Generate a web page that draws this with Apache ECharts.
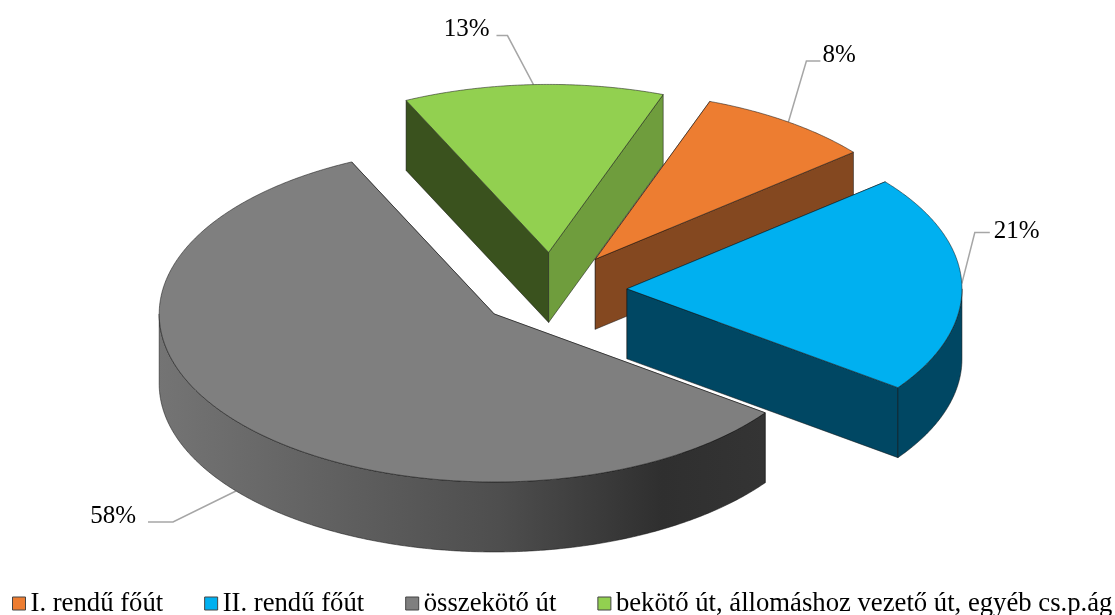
<!DOCTYPE html>
<html>
<head>
<meta charset="utf-8">
<style>html,body{margin:0;padding:0;background:#fff}#main{width:1115px;height:615px}</style>
<script src="https://cdn.jsdelivr.net/npm/echarts@6/dist/echarts.min.js"></script>
</head>
<body>
<div id="main"></div>
<script>
var categories = ['I. rendű főút', 'II. rendű főút', 'összekötő út', 'bekötő út, állomáshoz vezető út, egyéb cs.p.ág'];
var shares = [8.45, 21, 58, 12.55];

var topColors = ['#ED7D31', '#00B0F0', '#7F7F7F', '#92D050'];
var startWallColors = ['#844820', '#004763', '#333333', '#3A521E'];
var endWallColors = ['#844820', '#004763', '#333333', '#6F9D3D'];
var drawOrder = [2, 3, 4, 1];
// leader line: bend dx, bend dy, tail dx, text gap (sign gives the side), text dy
var leaders = [
  [18, -61, 14, 2, -6],
  [13, -51, 15, 4, -1],
  [-63, 31, -25, -12, -6],
  [-26, -49, -11, -7, -6]
];

var cx = 552, cy = 290;
var rx = 335, ry = 168;
var depth = 70, explode = 75;
var firstAngle = 20;
var grayWall = {
  type: 'linear', x: 0, y: 0, x2: 1, y2: 0,
  colorStops: [
    { offset: 0, color: '#747474' },
    { offset: 0.56, color: '#4E4E4E' },
    { offset: 0.83, color: '#2F2F2F' },
    { offset: 1, color: '#343434' }
  ]
};

var total = shares.reduce(function (a, b) { return a + b; }, 0);
var rad = Math.PI / 180;

function pt(ox, oy, deg, dy) {
  return [ox + rx * Math.sin(deg * rad), oy - ry * Math.cos(deg * rad) + (dy || 0)];
}
function arc(ox, oy, from, to, dy) {
  var pts = [];
  var n = Math.max(2, Math.ceil((to - from) * 2));
  for (var k = 0; k <= n; k++) pts.push(pt(ox, oy, from + (to - from) * k / n, dy));
  return pts;
}
function face(points, fill) {
  return {
    type: 'polygon',
    shape: { points: points },
    style: { fill: fill, stroke: 'rgba(20,20,20,0.75)', lineWidth: 0.7, lineJoin: 'round' }
  };
}

function sliceItem(i) {
  var before = shares.slice(0, i).reduce(function (a, b) { return a + b; }, 0);
  var a0 = firstAngle + before / total * 360;
  var a1 = a0 + shares[i] / total * 360;
  var mid = (a0 + a1) / 2;
  var ox = cx + explode * Math.sin(mid * rad);
  var oy = cy - explode * (ry / rx) * Math.cos(mid * rad);
  return function () {
    var kids = [];
    var p0 = pt(ox, oy, a0), p1 = pt(ox, oy, a1);
    kids.push(face([[ox, oy], p0, [p0[0], p0[1] + depth], [ox, oy + depth]], startWallColors[i]));
    kids.push(face([[ox, oy], p1, [p1[0], p1[1] + depth], [ox, oy + depth]], endWallColors[i]));
    // only the part of the rim that faces the viewer
    var w0 = Math.max(a0, 90), w1 = Math.min(a1, 270);
    if (w1 > w0) {
      var rim = arc(ox, oy, w0, w1, 0).concat(arc(ox, oy, w0, w1, depth).reverse());
      kids.push(face(rim, i === 2 ? grayWall : endWallColors[i]));
    }
    kids.push(face([[ox, oy]].concat(arc(ox, oy, a0, a1, 0)), topColors[i]));

    var front = Math.cos(mid * rad) < 0;
    var anchor = pt(ox, oy, mid, front ? depth : 0);
    var l = leaders[i];
    var bend = [anchor[0] + l[0], anchor[1] + l[1]];
    var tail = [bend[0] + l[2], bend[1]];
    kids.unshift({
      type: 'polyline',
      shape: { points: [anchor, bend, tail] },
      style: { fill: null, stroke: '#A6A6A6', lineWidth: 1.5 }
    });
    kids.push({
      type: 'text',
      style: {
        x: tail[0] + l[3], y: tail[1] + l[4],
        text: Math.round(shares[i]) + '%',
        fill: '#000',
        font: '25px "Liberation Serif"',
        align: l[3] < 0 ? 'right' : 'left',
        verticalAlign: 'middle'
      }
    });
    return { type: 'group', children: kids };
  };
}

var chart = echarts.init(document.getElementById('main'));
var series = categories.map(function (name, i) {
  return {
    name: name,
    type: 'custom',
    coordinateSystem: 'none',
    z: drawOrder[i],
    silent: true,
    itemStyle: { color: topColors[i] },
    data: [[shares[i]]],
    renderItem: sliceItem(i)
  };
});

chart.setOption({
  animation: false,
  backgroundColor: '#fff',
  legend: {
    left: 7,
    top: 590,
    width: 1200,
    padding: [0, 5],
    icon: 'rect',
    itemWidth: 13,
    itemHeight: 13,
    itemGap: 41,
    selectedMode: false,
    itemStyle: { borderColor: '#444', borderWidth: 1 },
    textStyle: { fontFamily: 'Liberation Serif', fontSize: 26.7, color: '#000' },
    data: categories
  },
  series: series
});
</script>
</body>
</html>
